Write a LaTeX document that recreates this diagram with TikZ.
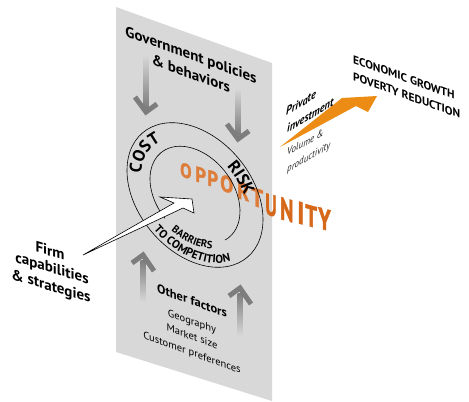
\documentclass[tikz,border=0pt]{standalone}
\usepackage{fontspec}
\setmainfont{PT Sans}
\newfontfamily\oppfont[BoldFeatures={FakeBold=1.6}]{PT Sans}
\usetikzlibrary{decorations.text}
\definecolor{panel}{RGB}{216,216,216}
\definecolor{garrow}{RGB}{125,125,125}
\definecolor{opp}{RGB}{214,104,26}
\definecolor{oppsoft}{RGB}{222,124,58}
\definecolor{oarr}{RGB}{236,140,20}
\begin{document}
\begin{tikzpicture}[x=1pt,y=1pt,
  sl/.style={yslant=-0.36},
  boldlbl/.style={inner sep=0pt, font=\fontsize{15}{19}\selectfont\bfseries},
  reglbl/.style={inner sep=0pt, font=\fontsize{10.5}{13}\selectfont},
  chev/.style={garrow, line width=5pt, line join=miter, miter limit=4},
  oppl/.style={inner sep=0pt, anchor=base west, text=opp, font=\oppfont\fontsize{20}{20}\selectfont\bfseries},
  ringtxt/.style={decorate, decoration={text along path, text align=center, text={#1}}}
]
\useasboundingbox (0,0) rectangle (469,-402);
% panel
\fill[panel] (116,-7) -- (272,-63) -- (272,-401) -- (116,-352) -- cycle;
% gray arrows
\shade[top color=panel, bottom color=garrow] (143.5,-55) rectangle (148.5,-108);
\draw[chev] (135,-97) -- (146,-112) -- (157,-104);
\shade[top color=panel, bottom color=garrow] (235.5,-88) rectangle (240.5,-134);
\draw[chev] (227,-124) -- (238,-139) -- (249,-131);
\shade[top color=garrow, bottom color=panel] (140.5,-260) rectangle (145.5,-302);
\draw[chev] (132,-263) -- (143,-255) -- (154,-271);
\shade[top color=garrow, bottom color=panel] (237.5,-293) rectangle (242.5,-336);
\draw[chev] (229,-296) -- (240,-288) -- (251,-304);
% OPPORTUNITY (soft part)
\foreach \ch/\px/\py/\xs/\ys [count=\i] in {O/180/176/0.85/1.0, P/195/181/0.95/1.07, P/207/185/0.95/1.1, O/220/190/0.98/1.14, R/237/198/1.0/1.21, T/251/205/1.05/1.29}{
  \node[oppl, text=oppsoft, yslant=-0.3, xscale=\xs, yscale=\ys] (ob\i) at (\px,-\py) {\ch};
}
% OPPORTUNITY (sharp part)
\foreach \ch/\px/\py/\xs/\ys [count=\i] in {U/265/214/0.92/1.5, N/280/219/1.0/1.57, I/297/223/1.2/1.57, T/305/225/1.05/1.5, Y/318/228/1.06/1.5}{
  \node[oppl, yslant=-0.27, xscale=\xs, yscale=\ys] (os\i) at (\px,-\py) {\ch};
}
% rings
\begin{scope}[shift={(195,-195)}, yslant=-0.36]
  \draw[line width=0.6pt] (0,0) ellipse [x radius=68, y radius=68];
  \draw[line width=0.6pt] (312:45 and 46) arc[start angle=312, end angle=588, x radius=45, y radius=46];
  \path[ringtxt={|\fontsize{17}{17}\selectfont\bfseries|COST}] (196:54 and 53) arc[start angle=196, end angle=108, x radius=54, y radius=53];
  \path[ringtxt={|\fontsize{17}{17}\selectfont\bfseries|RISK}] (76:52 and 51) arc[start angle=76, end angle=-8, x radius=52, y radius=51];
  \path[ringtxt={|\fontsize{10.5}{10.5}\selectfont\bfseries|BARRIERS}] (220:52 and 50) arc[start angle=220, end angle=320, x radius=52, y radius=50];
  \path[ringtxt={|\fontsize{11.5}{11.5}\selectfont\bfseries|TO COMPETITION}] (200:65 and 64) arc[start angle=200, end angle=345, x radius=65, y radius=64];
\end{scope}
% white arrow
\coordinate (wtail) at (83,-255);
\coordinate (wtip) at (192,-199);
\draw[fill=white, line width=0.6pt, line join=miter] (wtail) -- (174,-203) -- (160,-197) -- (wtip) -- (194,-213) -- (183,-208) -- cycle;
% panel texts
\node[boldlbl, sl, align=center] (gov) at (191,-64) {Government policies\\\& behaviors};
\node[boldlbl, sl, anchor=base, font=\fontsize{12.5}{15}\selectfont\bfseries] (other) at (192,-305) {Other factors};
\node[reglbl, sl, anchor=base] (geo) at (192,-325) {Geography};
\node[reglbl, sl, anchor=base] (mkt) at (192,-340) {Market size};
\node[reglbl, sl, anchor=base] (cust) at (192,-356) {Customer preferences};
% firm text
\node[boldlbl, yslant=-0.3, anchor=base] (firm1) at (50,-256) {Firm};
\node[boldlbl, yslant=-0.3, anchor=base] (firm2) at (52,-273) {capabilities};
\node[boldlbl, yslant=-0.3, anchor=base] (firm3) at (51,-291) {\& strategies};
% orange arrow
\coordinate (otail) at (280,-147);
\coordinate (otip) at (377,-96);
\fill[oarr] (otail) -- (342,-98) -- (otip) -- (368,-112) -- (356,-106) -- cycle;
\node[inner sep=0pt, anchor=base west, yslant=0.6, xscale=0.9, font=\fontsize{11.5}{13}\selectfont\bfseries\itshape] (priv1) at (286,-116) {Private};
\node[inner sep=0pt, anchor=base west, yslant=0.6, xscale=0.9, font=\fontsize{11.5}{13}\selectfont\bfseries\itshape] (priv2) at (287,-133) {investment};
\node[inner sep=0pt, anchor=base west, yslant=0.55, xscale=0.9, font=\fontsize{10}{12}\selectfont\itshape, text=black!85] (vol1) at (287,-156) {Volume \&};
\node[inner sep=0pt, anchor=base west, yslant=0.58, xscale=0.9, font=\fontsize{10}{12}\selectfont\itshape, text=black!85] (vol2) at (287,-173) {productivity};
% economic growth
\node[inner sep=0pt, anchor=base west, sl, font=\fontsize{11.5}{14}\selectfont\bfseries] (eco1) at (353,-63) {ECONOMIC GROWTH};
\node[inner sep=0pt, anchor=base west, sl, font=\fontsize{11.5}{14}\selectfont\bfseries] (eco2) at (353,-80) {POVERTY REDUCTION};
\end{tikzpicture}
\end{document}
